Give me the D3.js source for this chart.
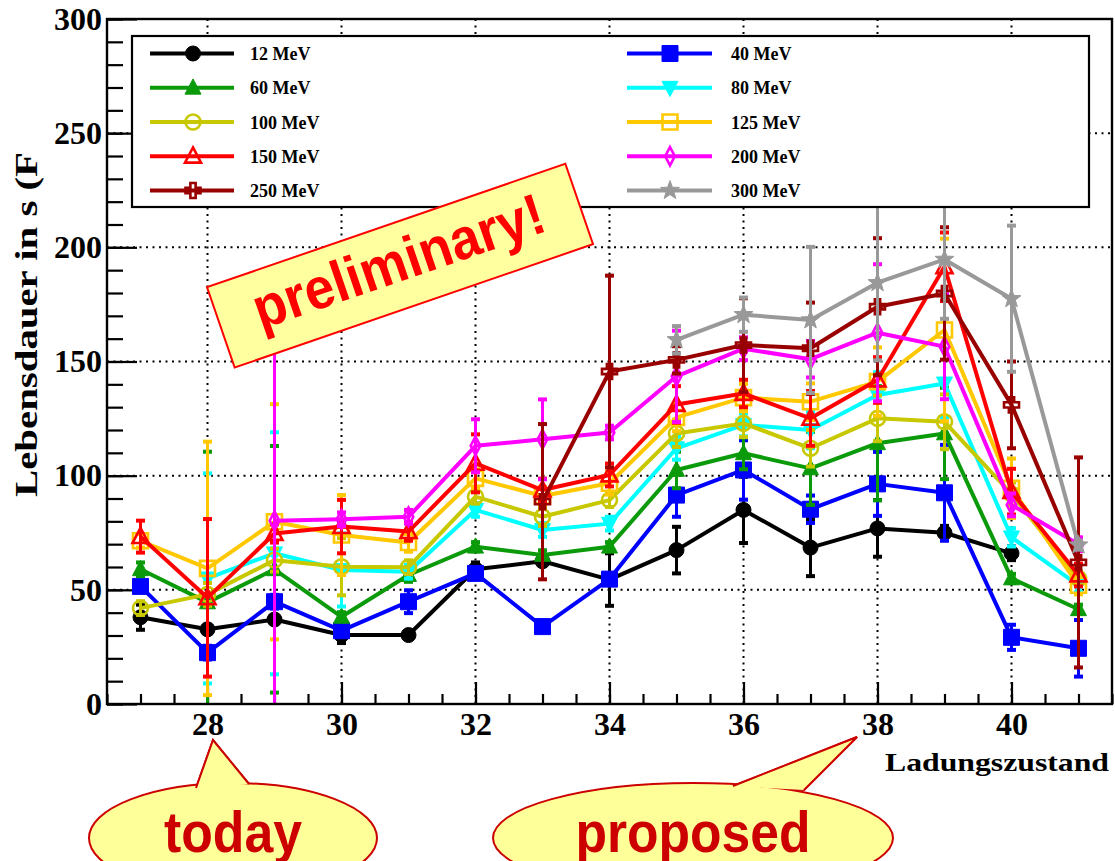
<!DOCTYPE html>
<html>
<head>
<meta charset="utf-8">
<script src="https://cdn.jsdelivr.net/npm/d3@7"></script>
<style>
  html, body { margin: 0; padding: 0; background: #fff; }
  svg { display: block; }
</style>
</head>
<body>
<svg id="chart" width="1115" height="861"></svg>
<script>
// Charge states (Ladungszustand)
const charge = [27, 28, 29, 30, 31, 32, 33, 34, 35, 36, 37, 38, 39, 40, 41];

// Fitted lifetimes per beam energy (s); null = no measurement
const life12  = [38, 32.7, 37, 30.2, 30.2, 59, 62.5, 54.5, 67.4, 85, 68.5, 76.9, 75, 66, null];
const life40  = [51.5, 22.5, 44.8, 32.1, 44.8, 57.2, 33.9, 54.7, 91.5, 102.5, 85.3, 96.4, 92.5, 29.2, 24.4];
const life60  = [59, 44.5, 59, 38.2, 56.5, 68.9, 65.3, 68.9, 102.5, 109.8, 103.2, 114.2, 118.5, 55, 41.5];
const life80  = [null, 55, 66, 58.7, 57.9, 85, 76.2, 79, 112, 122.2, 120, 135.3, 140.4, 73, 52];
const life100 = [42, 48, 63, 60.1, 59.9, 90.8, 82, 89.3, 118.5, 122.9, 112, 125.1, 123.6, 92, 55];
const life125 = [71.5, 59.4, 79.8, 74, 70.7, 98.8, 91.1, 96.7, 125.5, 134.2, 132.4, 141.2, 163.8, 94.5, 52];
const life150 = [73.3, 46.5, 74.7, 77.7, 75.5, 105.4, 93.7, 100.3, 131.2, 136, 125.1, 141.9, 191.5, 93, 56.5];
const life200 = [null, null, 80.3, 80.9, 82, 113.1, 115.9, 118.9, 143.5, 155.6, 151, 162.6, 156.5, 87.2, 70];
const life250 = [null, null, null, null, null, null, 88.6, 145.6, 150.7, 157.2, 155.8, 174, 179.8, 131, 62];
const life300 = [null, null, null, null, null, null, null, null, 159.5, 170.5, 168.2, 184.5, 194.7, 177.5, 69.6];

// Symmetric uncertainties (s)
const err12  = [5.5, 2, 2, 3.5, 1, 3, 2, 11.5, 10.2, 14.5, 12.5, 12.4, 3, 3, null];
const err40  = [2, 3, 3, 2, 5, 2, 1, 2, 9.5, 13, 6, 14, 21, 5.5, 12.4];
const err60  = [3, 66, 54, 2, 3, 2, 2, 2, 8, 7, 16, 25, 20, 2, 2];
const err80  = [null, 46, 53, 16, 3, 3, 3, 3, 5, 5, 8, 10, 15, 4, 3];
const err100 = [3, 5, 5, 12.5, 3, 3, 4, 3, 6, 6, 8, 10, 12, 5, 3];
const err125 = [3, 55.5, 51.5, 17.5, 4, 4, 4, 5, 6, 6, 8, 15, 40, 13, 4];
const err150 = [7, 34.5, 4, 11.7, 4, 12.7, 5, 5, 8, 6, 12, 10, 15, 10, 5];
const err200 = [null, null, 82, 3, 3, 11.6, 17.5, 3, 20, 5, 8, 30, 23, 5, 3];
const err250 = [null, null, null, null, null, null, 34, 42, 6, 20.5, 20, 30, 29, 19, 46];
const err300 = [null, null, null, null, null, null, null, null, 6, 7.5, 32, 34, 26, 32, 2];

const seriesLabels  = ["12 MeV", "40 MeV", "60 MeV", "80 MeV", "100 MeV", "125 MeV", "150 MeV", "200 MeV", "250 MeV", "300 MeV"];
const seriesColors  = ["#000000", "#0000ff", "#0a9a0a", "#00ffff", "#c8c800", "#ffc800", "#ff0000", "#ff00ff", "#990000", "#999999"];
const seriesMarkers = ["dot", "square", "triUp", "triDown", "openDot", "openSquare", "openTriUp", "openDiamond", "openCross", "star"];
const seriesValues  = [life12, life40, life60, life80, life100, life125, life150, life200, life250, life300];
const seriesErrors  = [err12, err40, err60, err80, err100, err125, err150, err200, err250, err300];

// Legend layout: two columns, five rows
const legendLeft  = ["12 MeV", "60 MeV", "100 MeV", "150 MeV", "250 MeV"];
const legendRight = ["40 MeV", "80 MeV", "125 MeV", "200 MeV", "300 MeV"];

const xMajorTicks = [28, 30, 32, 34, 36, 38, 40];
const yMajorTicks = [0, 50, 100, 150, 200, 250, 300];

const svg = d3.select("#chart");
const W = 1115, H = 861;
const frame = { left: 107, right: 1112, top: 19, bottom: 704 };

const x = d3.scaleLinear().domain([26.5, 41.5]).range([frame.left, frame.right]);
const y = d3.scaleLinear().domain([0, 300]).range([frame.bottom, frame.top]);

const serif = "'Liberation Serif', 'Times New Roman', serif";
const sans = "'Liberation Sans', Arial, sans-serif";

svg.append("rect").attr("width", W).attr("height", H).attr("fill", "#fff");

svg.append("defs").append("clipPath").attr("id", "plotclip")
  .append("rect")
  .attr("x", frame.left).attr("y", frame.top)
  .attr("width", frame.right - frame.left).attr("height", frame.bottom - frame.top);

// Dotted grid
const grid = svg.append("g").attr("stroke", "#000").attr("stroke-width", 2)
  .attr("stroke-dasharray", "2,4.5");
grid.selectAll("line.gx").data(xMajorTicks).join("line")
  .attr("x1", d => x(d)).attr("x2", d => x(d))
  .attr("y1", frame.top).attr("y2", frame.bottom);
grid.selectAll("line.gy").data(yMajorTicks.filter(v => v > 0 && v < 300)).join("line")
  .attr("x1", frame.left).attr("x2", frame.right)
  .attr("y1", d => y(d)).attr("y2", d => y(d));

// Axes with inward ticks
const yMinor = d3.range(0, 301, 10);
const xMinor = d3.range(26.5, 41.51, 0.5);

const axStyle = g => {
  g.select(".domain").remove();
  g.selectAll(".tick line").attr("stroke", "#000").attr("stroke-width", 2.2);
  g.selectAll("text").attr("font-family", serif).attr("font-weight", "bold")
    .attr("font-size", 32).attr("fill", "#000");
};

svg.append("g").attr("transform", `translate(${frame.left},0)`)
  .call(d3.axisLeft(y).tickValues(yMinor).tickSizeInner(-16).tickFormat(""))
  .call(axStyle);
svg.append("g").attr("transform", `translate(${frame.left},0)`)
  .call(d3.axisLeft(y).tickValues(yMajorTicks).tickSizeInner(-30).tickPadding(5).tickFormat(d3.format("d")))
  .call(axStyle);

svg.append("g").attr("transform", `translate(0,${frame.bottom})`)
  .call(d3.axisBottom(x).tickValues(xMinor).tickSizeInner(-10).tickFormat(""))
  .call(axStyle);
svg.append("g").attr("transform", `translate(0,${frame.bottom})`)
  .call(d3.axisBottom(x).tickValues(xMajorTicks).tickSizeInner(-22).tickPadding(8).tickFormat(d3.format("d")))
  .call(axStyle);

// Marker shapes
function markerPath(type, s) {
  const h = s / 2;
  switch (type) {
    case "square": case "openSquare":
      return `M${-h},${-h}H${h}V${h}H${-h}Z`;
    case "triUp": case "openTriUp":
      return `M0,${-h * 1.1}L${h},${h * 0.8}L${-h},${h * 0.8}Z`;
    case "triDown":
      return `M0,${h * 1.1}L${h},${-h * 0.8}L${-h},${-h * 0.8}Z`;
    case "openDiamond":
      return `M0,${-h * 1.15}L${h * 0.6},0L0,${h * 1.15}L${-h * 0.6},0Z`;
    case "openCross": {
      const a = h * 0.35;
      return `M${-a},${-h}H${a}V${-a}H${h}V${a}H${a}V${h}H${-a}V${a}H${-h}V${-a}H${-a}Z`;
    }
    case "star": {
      let p = "";
      for (let i = 0; i < 10; i++) {
        const r = i % 2 === 0 ? h * 1.1 : h * 0.45;
        const ang = -Math.PI / 2 + i * Math.PI / 5;
        p += (i === 0 ? "M" : "L") + (r * Math.cos(ang)).toFixed(2) + "," + (r * Math.sin(ang)).toFixed(2);
      }
      return p + "Z";
    }
    default: {
      const r = h;
      return `M${-r},0A${r},${r} 0 1,0 ${r},0A${r},${r} 0 1,0 ${-r},0Z`;
    }
  }
}
function markerSize(type) {
  return { dot: 15, square: 16, triUp: 16, triDown: 16, openDot: 15, openSquare: 15,
           openTriUp: 16, openDiamond: 16, openCross: 15, star: 18 }[type];
}
function drawMarker(g, type, color, cx, cy) {
  const open = type.startsWith("open");
  g.append("path")
    .attr("d", markerPath(type, markerSize(type)))
    .attr("transform", `translate(${cx},${cy})`)
    .attr("fill", open ? "none" : color)
    .attr("stroke", color)
    .attr("stroke-width", open ? 2.6 : 1);
}

// Data series
const plot = svg.append("g").attr("clip-path", "url(#plotclip)");
const line = d3.line().defined(d => d.v != null).x(d => x(d.c)).y(d => y(d.v));

seriesValues.forEach((vals, si) => {
  const color = seriesColors[si];
  const pts = charge.map((c, i) => ({ c, v: vals[i], e: seriesErrors[si][i] }))
    .filter(d => d.v != null);
  const g = plot.append("g");
  g.append("path").datum(pts).attr("d", line)
    .attr("fill", "none").attr("stroke", color).attr("stroke-width", 4)
    .attr("stroke-linejoin", "round");
  pts.forEach(d => {
    if (!d.e) return;
    const top = y(d.v + d.e), bot = y(d.v - d.e), px = x(d.c);
    g.append("line").attr("x1", px).attr("x2", px).attr("y1", top).attr("y2", bot)
      .attr("stroke", color).attr("stroke-width", 3);
    [top, bot].forEach(yy => g.append("line")
      .attr("x1", px - 4.5).attr("x2", px + 4.5).attr("y1", yy).attr("y2", yy)
      .attr("stroke", color).attr("stroke-width", 4));
  });
  pts.forEach(d => drawMarker(g, seriesMarkers[si], color, x(d.c), y(d.v)));
});

// Frame
svg.append("rect")
  .attr("x", frame.left).attr("y", frame.top)
  .attr("width", frame.right - frame.left).attr("height", frame.bottom - frame.top)
  .attr("fill", "none").attr("stroke", "#000").attr("stroke-width", 2.4);

// Legend
const leg = svg.append("g");
leg.append("rect").attr("x", 132).attr("y", 36).attr("width", 957).attr("height", 171)
  .attr("fill", "#fff").attr("stroke", "#000").attr("stroke-width", 2.2);
const rowY = d3.scalePoint().domain(d3.range(5)).range([53.5, 190.5]);
[[legendLeft, 150, 234, 193, 250], [legendRight, 627, 712, 670, 731]].forEach(([labels, x1, x2, mx, tx]) => {
  labels.forEach((lab, r) => {
    const si = seriesLabels.indexOf(lab);
    const yy = rowY(r);
    leg.append("line").attr("x1", x1).attr("x2", x2).attr("y1", yy).attr("y2", yy)
      .attr("stroke", seriesColors[si]).attr("stroke-width", 4);
    drawMarker(leg, seriesMarkers[si], seriesColors[si], mx, yy);
    leg.append("text").attr("x", tx).attr("y", yy + 6.5)
      .attr("font-family", serif).attr("font-weight", "bold").attr("font-size", 18)
      .attr("fill", "#000").text(lab);
  });
});

// Axis titles
svg.append("text")
  .attr("transform", "translate(37,324.5) rotate(-90)")
  .attr("text-anchor", "middle")
  .attr("font-family", serif).attr("font-weight", "bold").attr("font-size", 32)
  .attr("textLength", 345).attr("lengthAdjust", "spacingAndGlyphs")
  .text("Lebensdauer in s (F");
svg.append("text")
  .attr("x", 885).attr("y", 771)
  .attr("font-family", serif).attr("font-weight", "bold").attr("font-size", 26)
  .attr("textLength", 224).attr("lengthAdjust", "spacingAndGlyphs")
  .text("Ladungszustand");

// "preliminary!" stamp
const stamp = svg.append("g").attr("transform", "translate(400,265.7) rotate(-19)");
stamp.append("rect").attr("x", -189.5).attr("y", -42.5).attr("width", 379).attr("height", 85)
  .attr("fill", "#ffffa0").attr("stroke", "#ff0000").attr("stroke-width", 2);
stamp.append("text").attr("x", 0).attr("y", 15).attr("text-anchor", "middle")
  .attr("font-family", sans).attr("font-weight", "bold").attr("font-size", 58)
  .attr("fill", "#ff0000")
  .attr("textLength", 305).attr("lengthAdjust", "spacingAndGlyphs")
  .text("preliminary!");

// Speech bubbles
function bubble(cx, cy, rx, ry, tail, label, textLen) {
  const g = svg.append("g");
  const fill = "#ffff99", stroke = "#cc0000";
  g.append("path").attr("d", d3.line()(tail) + "Z").attr("fill", fill).attr("stroke", stroke).attr("stroke-width", 2);
  g.append("ellipse").attr("cx", cx).attr("cy", cy).attr("rx", rx).attr("ry", ry)
    .attr("fill", fill).attr("stroke", stroke).attr("stroke-width", 2);
  g.append("path").attr("d", d3.line()(tail) + "Z").attr("fill", fill).attr("stroke", "none");
  g.append("path").attr("d", d3.line()(tail)).attr("fill", "none").attr("stroke", stroke).attr("stroke-width", 2);
  g.append("text").attr("x", cx).attr("y", 852).attr("text-anchor", "middle")
    .attr("font-family", sans).attr("font-weight", "bold").attr("font-size", 58)
    .attr("fill", stroke)
    .attr("textLength", textLen).attr("lengthAdjust", "spacingAndGlyphs")
    .text(label);
}
bubble(233, 838, 144, 55, [[196, 788], [213, 740], [249, 784]], "today", 138);
bubble(693, 838, 200, 55, [[733, 786], [857, 737], [804, 790]], "proposed", 235);
</script>
</body>
</html>
